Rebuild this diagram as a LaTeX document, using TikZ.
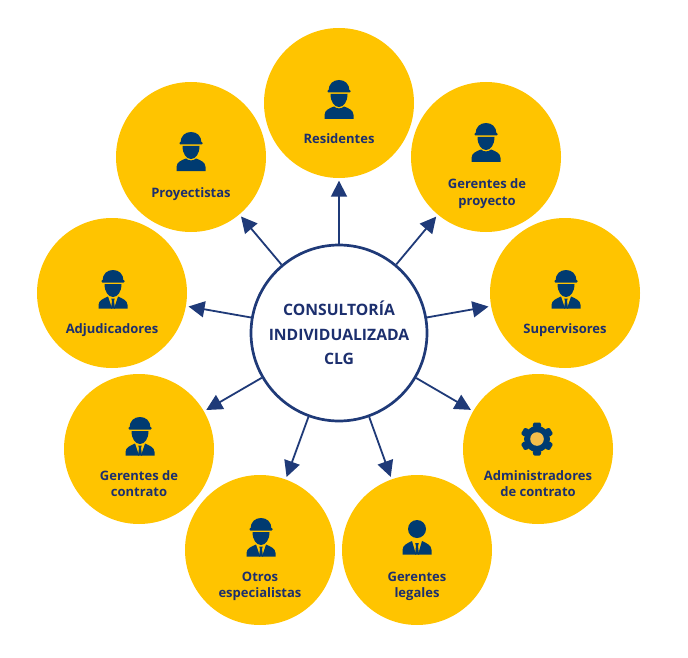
\documentclass[tikz,border=0pt]{standalone}
\usepackage{fontspec}
\setmainfont{Open Sans}
\usetikzlibrary{arrows.meta}
\definecolor{gold}{HTML}{FFC400}
\definecolor{navy}{HTML}{1F3A78}
\definecolor{labelc}{HTML}{1C2F6E}
\definecolor{iconc}{HTML}{003B71}
\definecolor{gearc}{HTML}{F4BE4B}
\tikzset{
  x=1pt,y=-1pt,
  disc/.style={circle,fill=gold,minimum size=150pt,inner sep=0pt},
  hubnode/.style={circle,draw=navy,line width=2.7pt,fill=white,minimum size=176pt,inner sep=0pt,align=center,text=labelc,font=\fontsize{15.7}{24.5}\selectfont\bfseries},
  lab/.style={align=center,text=labelc,inner sep=0pt,font=\fontsize{13}{16.7}\selectfont\bfseries},
  link/.style={draw=navy,line width=1.8pt,-{Triangle[length=16pt,width=16pt]},shorten >=2.5pt},
  helmethead/.pic={
    \fill[iconc] (-10.5,-9) .. controls (-10.5,-16) and (-6,-20) .. (0,-20) .. controls (6,-20) and (10.5,-16) .. (10.5,-9) -- cycle;
    \fill[iconc,rounded corners=0.8pt] (-11.5,-10) rectangle (11.5,-7.5);
    \fill[iconc] (-8.5,-6) -- (8.5,-6) .. controls (8.5,2) and (4.5,7) .. (0,7) .. controls (-4.5,7) and (-8.5,2) .. (-8.5,-6) -- cycle;
  },
  worker/.pic={
    \pic {helmethead};
    \fill[iconc] (-14.5,19) -- (-14.5,15) .. controls (-14.5,10) and (-9,8) .. (-5,6.5) .. controls (-3,9) and (3,9) .. (5,6.5) .. controls (9,8) and (14.5,10) .. (14.5,15) -- (14.5,19) -- cycle;
  },
  suited/.pic={
    \pic {helmethead};
    \fill[iconc] (-14.5,18.5) -- (-14.5,15) .. controls (-14.5,10.5) and (-9.5,8.5) .. (-5,6.5) -- (-1,18.5) -- cycle;
    \fill[iconc] (14.5,18.5) -- (14.5,15) .. controls (14.5,10.5) and (9.5,8.5) .. (5,6.5) -- (1,18.5) -- cycle;
    \fill[iconc] (-1.8,8.5) -- (1.8,8.5) -- (1,11) -- (2,18.5) -- (-2,18.5) -- (-1,11) -- cycle;
  },
  lawyer/.pic={
    \fill[iconc] (0,-8) circle (9);
    \fill[iconc] (-14.5,17.5) -- (-14.5,13) .. controls (-14.5,8) and (-9,6) .. (-5,4) -- (-1,17.5) -- cycle;
    \fill[iconc] (14.5,17.5) -- (14.5,13) .. controls (14.5,8) and (9,6) .. (5,4) -- (1,17.5) -- cycle;
    \fill[iconc] (-1.8,6) -- (1.8,6) -- (1,9) -- (2,17.5) -- (-2,17.5) -- (-1,9) -- cycle;
  },
  gear/.pic={
    \foreach \a in {0,60,...,300}{
      \fill[iconc,rotate=\a,rounded corners=1pt] (-4.5,-12) -- (-3.5,-16.5) -- (3.5,-16.5) -- (4.5,-12) -- cycle;
    }
    \fill[iconc] (0,0) circle (13);
    \fill[gearc] (0,0) circle (6.8);
  }
}
\begin{document}
\begin{tikzpicture}
\useasboundingbox (0,0) rectangle (688,658);
\fill[white] (0,0) rectangle (688,658);
\node[disc] (res) at (339,103) {};
\node[disc] (pro) at (191,157) {};
\node[disc] (gpr) at (486,157) {};
\node[disc] (adj) at (112,293) {};
\node[disc] (sup) at (565,293) {};
\node[disc] (gco) at (139,449) {};
\node[disc] (adm) at (538,449) {};
\node[disc] (otr) at (260,550) {};
\node[disc] (leg) at (417,550) {};
\node[hubnode] (hub) at (339,333) {CONSULTORÍA\\INDIVIDUALIZADA\\CLG};
\foreach \t in {res,pro,gpr,adj,sup,gco,adm,otr,leg}{
  \draw[link] (hub) -- (\t);
}
\pic at (339,100) {worker};
\pic at (191,152) {worker};
\pic at (486,143) {worker};
\pic at (113,290) {suited};
\pic at (566,290) {suited};
\pic at (140,437) {suited};
\pic at (261,538) {suited};
\pic at (417,537) {lawyer};
\pic at (537,439) {gear};
\node[lab] (lres) at (339,138.6) {Residentes};
\node[lab] (lpro) at (191,194) {Proyectistas};
\node[lab] (lgpr) at (487,193.4) {Gerentes de\\proyecto};
\node[lab] (ladj) at (112,330) {Adjudicadores};
\node[lab] (lsup) at (565,330) {Supervisores};
\node[lab] (lgco) at (139,483.6) {Gerentes de\\contrato};
\node[lab] (ladm) at (538,483.6) {Administradores\\de contrato};
\node[lab] (lotr) at (260,586.3) {Otros\\especialistas};
\node[lab] (lleg) at (417,586.3) {Gerentes\\legales};
\end{tikzpicture}
\end{document}
